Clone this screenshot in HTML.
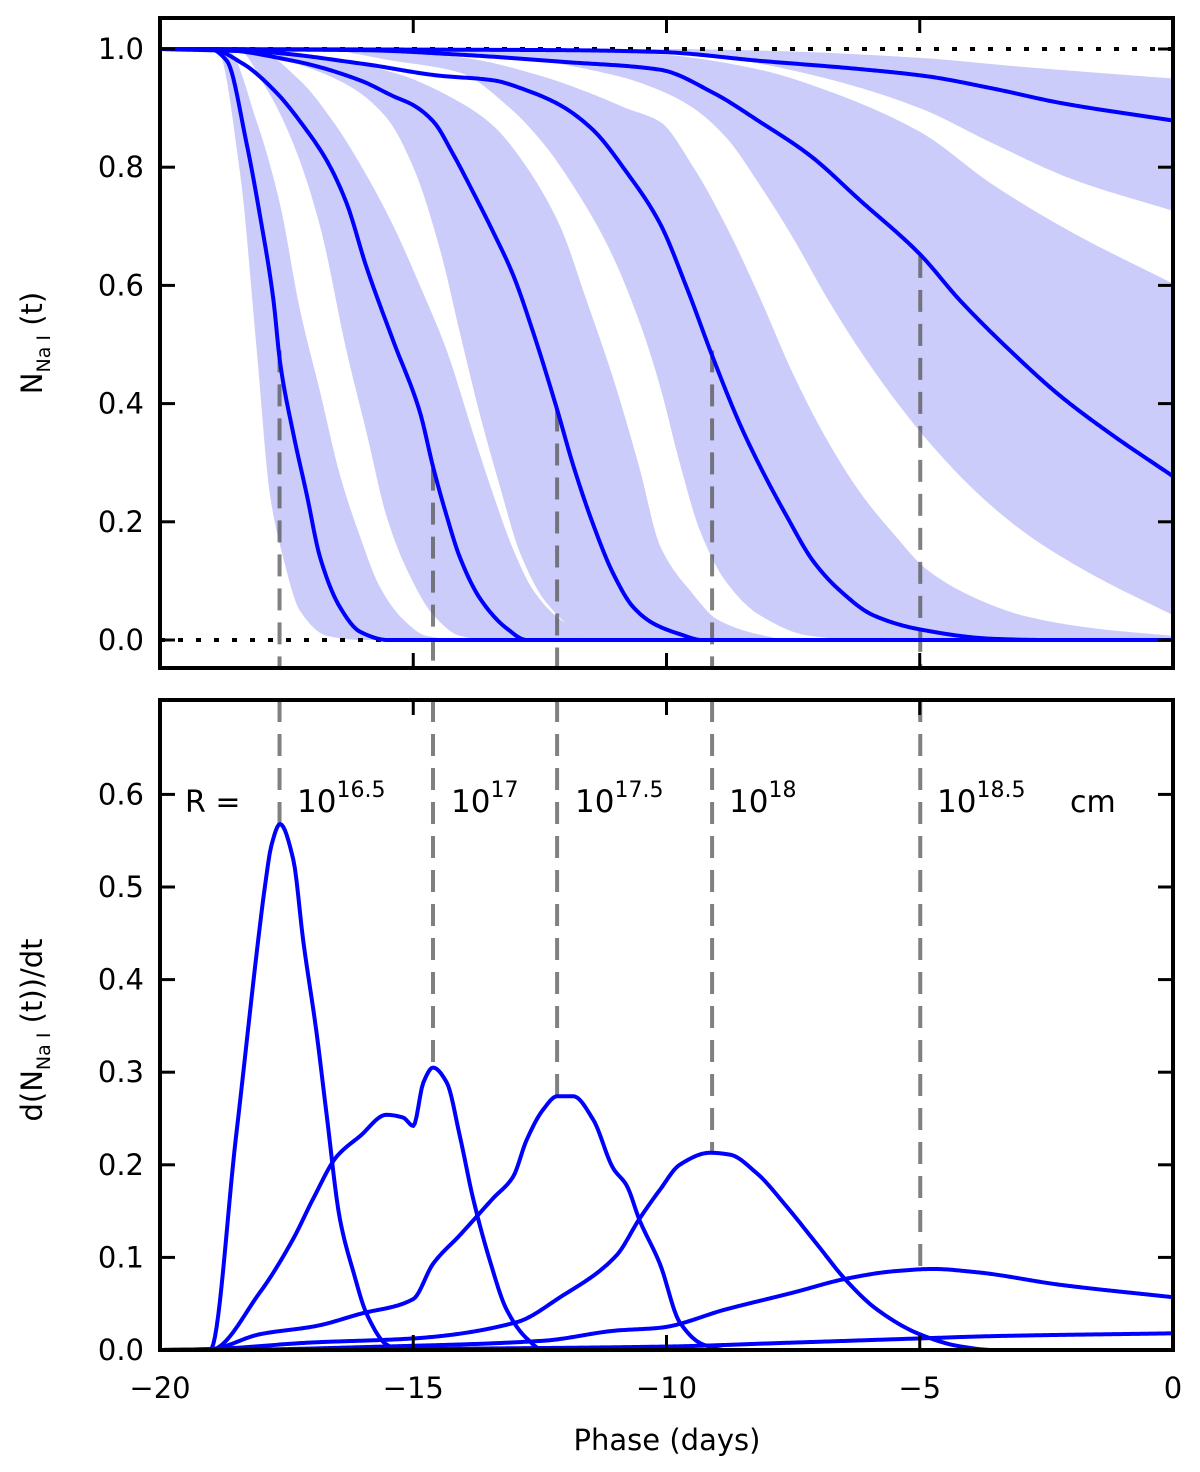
<!DOCTYPE html>
<html><head><meta charset="utf-8"><style>
html,body{margin:0;padding:0;background:#fff;}
svg{display:block;font-family:"DejaVu Sans","Liberation Sans",sans-serif;}
</style></head><body>
<svg id="chart" width="1200" height="1472" viewBox="0 0 1200 1472" xmlns="http://www.w3.org/2000/svg">
<defs>
<clipPath id="clipTop"><rect x="160" y="18" width="1013" height="650"/></clipPath>
<clipPath id="clipBot"><rect x="160" y="700" width="1013" height="650"/></clipPath>
</defs>
<g id="topPanel"></g>
<g id="botPanel"></g>
<g id="labels">
<text transform="translate(42,343) rotate(-90)" text-anchor="middle" font-size="29">N<tspan font-size="19" dy="8">Na I</tspan><tspan dy="-8"> (t)</tspan></text>
<text transform="translate(42,1030) rotate(-90)" text-anchor="middle" font-size="29">d(N<tspan font-size="19" dy="8">Na I</tspan><tspan dy="-8"> (t))/dt</tspan></text>
<text x="667" y="1450" text-anchor="middle" font-size="29">Phase (days)</text>
<text x="185" y="812" font-size="30">R =</text>
<text x="297" y="812" font-size="31">10<tspan font-size="22" dy="-15">16.5</tspan></text>
<text x="451" y="812" font-size="31">10<tspan font-size="22" dy="-15">17</tspan></text>
<text x="575" y="812" font-size="31">10<tspan font-size="22" dy="-15">17.5</tspan></text>
<text x="729" y="812" font-size="31">10<tspan font-size="22" dy="-15">18</tspan></text>
<text x="937" y="812" font-size="31">10<tspan font-size="22" dy="-15">18.5</tspan></text>
<text x="1070" y="812" font-size="30">cm</text>
</g>
</svg>
<script>
// ---- data ----
const xTicks = [-20, -15, -10, -5, 0];
const xTickLabels = ["\u221220", "\u221215", "\u221210", "\u22125", "0"];
const topYTicks = [0, 0.2, 0.4, 0.6, 0.8, 1.0];
const topYTickLabels = ["0.0", "0.2", "0.4", "0.6", "0.8", "1.0"];
const botYTicks = [0, 0.1, 0.2, 0.3, 0.4, 0.5, 0.6];
const botYTickLabels = ["0.0", "0.1", "0.2", "0.3", "0.4", "0.5", "0.6"];

const peakPhase = [-17.64, -14.61, -12.16, -9.10, -4.99];
const dashTopStart = [0.49, 0.29, 0.39, 0.49, 0.65];
const peakValue = [0.568, 0.305, 0.274, 0.213, 0.0875];

const bandALo = [[-20,1],[-18.88,1],[-18.42,0.79],[-18.09,0.49],[-17.83,0.246],[-17.57,0.14],[-17.24,0.05],[-16.7,0.007],[-16,0],[0,0]];
const bandAHi = [[-20,1],[-18.68,1],[-18.09,0.877],[-17.63,0.737],[-17.24,0.56],[-16.84,0.42],[-16.45,0.28],[-16.05,0.175],[-15.66,0.09],[-15.2,0.035],[-14.74,0.007],[-14,0],[0,0]];
const bandBLo = [[-20,1],[-18.49,1],[-17.9,0.933],[-17.37,0.84],[-16.84,0.70],[-16.32,0.49],[-15.92,0.35],[-15.53,0.21],[-15.13,0.12],[-14.6,0.042],[-14.08,0.007],[-13.5,0],[0,0]];
const bandBHi = [[-20,1],[-18.6,1],[-18.03,0.996],[-17.24,0.947],[-16.58,0.877],[-15.92,0.786],[-15.39,0.70],[-14.87,0.6],[-14.34,0.49],[-13.82,0.35],[-13.42,0.246],[-13.03,0.154],[-12.63,0.084],[-12.1,0.035],[-11.45,0.007],[-10.8,0],[0,0]];
const bandCLo = [[-20,1],[-18.5,1],[-17.5,0.98],[-16.32,0.94],[-15.53,0.884],[-15.0,0.8],[-14.47,0.66],[-14.08,0.52],[-13.68,0.38],[-13.29,0.26],[-12.89,0.147],[-12.37,0.063],[-11.71,0.014],[-11,0],[0,0]];
const bandCHi = [[-20,1],[-18.5,1],[-17.37,0.993],[-15.39,0.96],[-14.08,0.91],[-13.42,0.87],[-12.76,0.8],[-12.1,0.70],[-11.58,0.575],[-11.05,0.442],[-10.53,0.29],[-10.13,0.16],[-9.5,0.08],[-9.0,0.035],[-8.2,0.01],[-7.5,0],[0,0]];
const bandDLo = [[-20,1],[-17,1],[-15.39,0.98],[-14.08,0.96],[-13.09,0.9],[-12.43,0.84],[-11.78,0.76],[-11.12,0.66],[-10.5,0.53],[-10.13,0.43],[-9.74,0.30],[-9.34,0.185],[-8.82,0.098],[-8.16,0.042],[-7.17,0.007],[-6,0],[0,0]];
const bandDHi = [[-20,1],[-16,0.998],[-14,0.985],[-12.5,0.955],[-11.5,0.925],[-10.8,0.9],[-10.13,0.877],[-9.47,0.80],[-8.82,0.70],[-8.16,0.58],[-7.5,0.45],[-6.84,0.34],[-6.18,0.25],[-5.52,0.18],[-4.87,0.12],[-3.88,0.07],[-2.9,0.04],[-1.58,0.02],[0,0.007]];
const bandELo = [[-20,1],[-16,1],[-13,0.985],[-11,0.955],[-10.13,0.93],[-9.47,0.9],[-8.82,0.85],[-8.16,0.77],[-7.5,0.68],[-6.84,0.58],[-6.18,0.49],[-5.52,0.41],[-4.87,0.34],[-3.88,0.25],[-2.9,0.18],[-1.58,0.11],[0,0.042]];
const bandEHi = [[-20,1],[-12,1],[-10,0.99],[-8.16,0.965],[-6.84,0.93],[-5,0.86],[-3.55,0.77],[-2,0.69],[0,0.603]];
const bandFLo = [[-20,1],[-12,1],[-10,0.995],[-8.5,0.98],[-6.84,0.95],[-5,0.9],[-3.55,0.84],[-2,0.78],[0,0.726]];
const bandFHi = [[-20,1],[-10,1],[-8,0.997],[-5,0.985],[-3,0.97],[0,0.95]];

const nA = [[-20,1],[-19.01,1],[-18.68,0.98],[-18.29,0.84],[-18.03,0.72],[-17.76,0.575],[-17.63,0.47],[-17.37,0.35],[-17.1,0.245],[-16.84,0.14],[-16.45,0.056],[-16.05,0.014],[-15.5,0],[0,0]];
const nB = [[-20,1],[-19.01,1],[-18.36,0.975],[-17.7,0.926],[-17.17,0.87],[-16.7,0.81],[-16.32,0.74],[-15.92,0.63],[-15.39,0.505],[-14.87,0.386],[-14.6,0.29],[-14.34,0.21],[-14.08,0.14],[-13.68,0.07],[-13.16,0.02],[-12.76,0],[0,0]];
const nC = [[-20,1],[-19,1],[-17.37,0.98],[-16.05,0.947],[-15.39,0.92],[-15.0,0.905],[-14.6,0.877],[-14.2,0.82],[-13.82,0.758],[-13.42,0.69],[-13.03,0.618],[-12.63,0.52],[-12.17,0.393],[-11.84,0.295],[-11.45,0.196],[-11.05,0.112],[-10.66,0.056],[-10.26,0.028],[-9.74,0.01],[-9.3,0],[0,0]];
const nD = [[-20,1],[-18,0.995],[-16,0.975],[-14.5,0.955],[-13.42,0.947],[-12.76,0.93],[-12.1,0.905],[-11.45,0.863],[-10.8,0.793],[-10.13,0.705],[-9.6,0.596],[-9.08,0.477],[-8.55,0.365],[-8.16,0.295],[-7.63,0.21],[-7.1,0.133],[-6.58,0.084],[-5.92,0.042],[-5.0,0.018],[-3.55,0.002],[-2.5,0],[0,0]];
const nE = [[-20,1],[-16,0.998],[-14,0.99],[-12,0.978],[-10.13,0.965],[-9.08,0.926],[-8.16,0.877],[-7.17,0.82],[-6.18,0.744],[-5.0,0.653],[-4.21,0.575],[-3.22,0.49],[-2.24,0.414],[-1.25,0.35],[0,0.277]];
const nF = [[-20,1],[-15,0.999],[-12,0.998],[-10.13,0.995],[-8.16,0.98],[-6.18,0.966],[-4.87,0.954],[-3.55,0.933],[-2.24,0.909],[0,0.879]];

const dA = [[-20,0],[-19.01,0],[-18.5,0.23],[-18.03,0.457],[-17.93,0.5],[-17.8,0.545],[-17.63,0.568],[-17.37,0.53],[-17.17,0.441],[-16.91,0.343],[-16.71,0.254],[-16.45,0.142],[-16.18,0.084],[-15.92,0.039],[-15.53,0.006],[-15.26,0],[0,0]];
const dB = [[-20,0],[-19.01,0],[-18.03,0.062],[-17.37,0.12],[-16.97,0.164],[-16.51,0.209],[-16.05,0.231],[-15.53,0.254],[-15.2,0.251],[-15.0,0.242],[-14.8,0.289],[-14.61,0.305],[-14.34,0.289],[-14.08,0.231],[-13.82,0.164],[-13.49,0.097],[-13.16,0.044],[-12.76,0.0125],[-12.43,0],[0,0]];
const dC = [[-20,0],[-19.01,0.001],[-18.03,0.017],[-16.91,0.026],[-16.05,0.039],[-15.0,0.055],[-14.61,0.093],[-14.08,0.124],[-13.42,0.164],[-13.03,0.187],[-12.76,0.227],[-12.43,0.26],[-12.16,0.274],[-11.84,0.274],[-11.45,0.249],[-11.05,0.196],[-10.79,0.178],[-10.53,0.14],[-10.13,0.093],[-9.74,0.03],[-9.28,0.006],[-8.82,0],[0,0]];
const dD = [[-20,0],[-19.01,0.001],[-17.04,0.008],[-15.0,0.0125],[-12.96,0.03],[-12.1,0.057],[-10.99,0.102],[-10.53,0.142],[-10.13,0.173],[-9.74,0.2],[-9.14,0.213],[-8.75,0.211],[-8.22,0.191],[-7.63,0.155],[-7.04,0.115],[-6.45,0.075],[-5.85,0.044],[-5.0,0.017],[-4.21,0.004],[-3.55,0],[0,0]];
const dE = [[-20,0],[-19.01,0],[-15.39,0.004],[-12.43,0.01],[-10.99,0.021],[-10.13,0.024],[-8.82,0.044],[-7.5,0.062],[-6.45,0.077],[-5.52,0.085],[-4.74,0.0875],[-3.88,0.084],[-2.24,0.0705],[0,0.057]];
const dF = [[-20,0],[-19.01,0],[-15.39,0.001],[-10.13,0.0036],[-7.5,0.008],[-5,0.0125],[-3.55,0.015],[0,0.018]];

// ---- scales ----
const X0 = 160, X1 = 1173;
function sx(p){ return X0 + (p + 20) / 20 * (X1 - X0); }
function syTop(v){ return 640 - v * 591; }
function syBot(v){ return 1350 - v * 926; }

const NS = "http://www.w3.org/2000/svg";
function mk(tag, attrs, parent){
  const e = document.createElementNS(NS, tag);
  for (const k in attrs) e.setAttribute(k, attrs[k]);
  parent.appendChild(e);
  return e;
}
// monotone cubic (Fritsch-Carlson) sampling in data space, returns pixel points
function monoPts(data, sy){
  const n = data.length, xs = data.map(d => d[0]), ys = data.map(d => d[1]);
  const dl = [], m = new Array(n).fill(0);
  for (let i = 0; i < n - 1; i++) dl.push((ys[i + 1] - ys[i]) / (xs[i + 1] - xs[i]));
  m[0] = dl[0]; m[n - 1] = dl[n - 2];
  for (let i = 1; i < n - 1; i++){
    if (dl[i - 1] * dl[i] <= 0) m[i] = 0;
    else {
      const h0 = xs[i] - xs[i - 1], h1 = xs[i + 1] - xs[i];
      const w1 = 2 * h1 + h0, w2 = h1 + 2 * h0;
      m[i] = (w1 + w2) / (w1 / dl[i - 1] + w2 / dl[i]);
    }
  }
  const out = [];
  for (let i = 0; i < n - 1; i++){
    const h = xs[i + 1] - xs[i];
    const steps = Math.max(2, Math.ceil(h * 30));
    for (let k = 0; k < steps; k++){
      const t = k / steps, t2 = t * t, t3 = t2 * t;
      const y = (2 * t3 - 3 * t2 + 1) * ys[i] + (t3 - 2 * t2 + t) * h * m[i] + (-2 * t3 + 3 * t2) * ys[i + 1] + (t3 - t2) * h * m[i + 1];
      out.push([sx(xs[i] + t * h), sy(y)]);
    }
  }
  out.push([sx(xs[n - 1]), sy(ys[n - 1])]);
  return out;
}
function toPath(p, start){
  return p.map((q, i) => ((i === 0 && start) ? "M" : "L") + q[0].toFixed(2) + "," + q[1].toFixed(2)).join("");
}

const topPanel = document.getElementById("topPanel");
const botPanel = document.getElementById("botPanel");
const gTop = mk("g", {"clip-path": "url(#clipTop)"}, topPanel);
const gBot = mk("g", {"clip-path": "url(#clipBot)"}, botPanel);

// bands
const bands = [[bandALo, bandAHi], [bandBLo, bandBHi], [bandCLo, bandCHi], [bandDLo, bandDHi], [bandELo, bandEHi], [bandFLo, bandFHi]];
bands.forEach((b, i) => {
  const lo = monoPts(b[0], syTop), hi = monoPts(b[1], syTop).reverse();
  const d = toPath(lo, true) + toPath(hi, false) + "Z";
  const el = mk("path", {d: d, fill: "#ccccfa", stroke: "none"}, gTop);
  
  
});

// dotted reference lines
[0, 1].forEach(v => {
  const el = mk("line", {x1: X0, x2: X1, y1: syTop(v), y2: syTop(v), stroke: "#000", "stroke-width": 4, "stroke-dasharray": "5 13"}, gTop);
  
  
});

// dashed peak markers
peakPhase.forEach((p, i) => {
  const a = mk("line", {x1: sx(p), x2: sx(p), y1: syTop(dashTopStart[i]), y2: 668, stroke: "#555", "stroke-opacity": 0.75, "stroke-width": 4, "stroke-dasharray": "22 12"}, gTop);
  
  
  const b = mk("line", {x1: sx(p), x2: sx(p), y1: 700, y2: syBot(peakValue[i]), stroke: "#808080", "stroke-width": 4, "stroke-dasharray": "22 12"}, gBot);
  
  
});

// top curves
[nA, nB, nC, nD, nE, nF].forEach((c, i) => {
  const el = mk("path", {d: toPath(monoPts(c, syTop), true), fill: "none", stroke: "#0000ff", "stroke-width": 4, "stroke-linejoin": "round"}, gTop);
  
  
});
// bottom curves
[dA, dB, dC, dD, dE, dF].forEach((c, i) => {
  const el = mk("path", {d: toPath(monoPts(c, syBot), true), fill: "none", stroke: "#0000ff", "stroke-width": 4, "stroke-linejoin": "round"}, gBot);
  
  
});

// axes frames + ticks
function axes(parent, yTop, yBottom, sy, yTicks, yLabels, showXLabels, prefix){
  const f = mk("rect", {x: X0, y: yTop, width: X1 - X0, height: yBottom - yTop, fill: "none", stroke: "#000", "stroke-width": 4}, parent);
  
  
  xTicks.forEach((t, i) => {
    const x = sx(t);
    const a = mk("line", {x1: x, x2: x, y1: yTop, y2: yTop + 15, stroke: "#000", "stroke-width": 3}, parent);
    
    
    const b = mk("line", {x1: x, x2: x, y1: yBottom, y2: yBottom - 15, stroke: "#000", "stroke-width": 3}, parent);
    
    
    if (showXLabels){
      const tx = mk("text", {x: x, y: 1398, "text-anchor": "middle", "font-size": 29}, parent);
      tx.textContent = xTickLabels[i];
      
      
    }
  });
  yTicks.forEach((t, i) => {
    const y = sy(t);
    const a = mk("line", {x1: X0, x2: X0 + 15, y1: y, y2: y, stroke: "#000", "stroke-width": 3}, parent);
    
    
    const b = mk("line", {x1: X1, x2: X1 - 15, y1: y, y2: y, stroke: "#000", "stroke-width": 3}, parent);
    
    
    const tx = mk("text", {x: 144, y: y + 10, "text-anchor": "end", "font-size": 29}, parent);
    tx.textContent = yLabels[i];
    
    
  });
}
axes(topPanel, 18, 668, syTop, topYTicks, topYTickLabels, false, "top");
axes(botPanel, 700, 1350, syBot, botYTicks, botYTickLabels, true, "bottom");
</script>
</body></html>
